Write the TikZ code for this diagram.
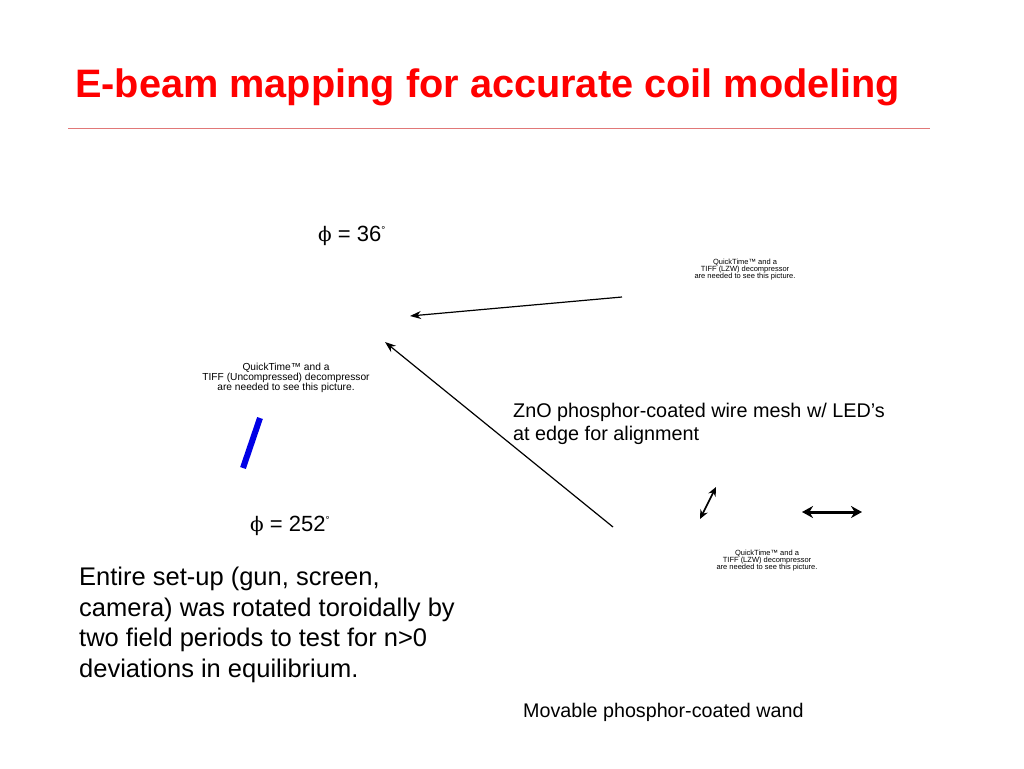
\documentclass[tikz,border=0pt]{standalone}
\usepackage{fontspec}
\setmainfont{Liberation Sans}
\newfontfamily\phifont{DejaVu Serif}
\usetikzlibrary{arrows.meta}
\definecolor{titlered}{RGB}{255,0,0}
\definecolor{rulered}{RGB}{225,120,120}
\definecolor{barblue}{RGB}{0,0,230}
\newcommand{\degsup}{\raisebox{7.5pt}{\fontsize{10}{10}\selectfont °}}
\tikzset{
  txt/.style={anchor=base west, inner sep=0pt, align=left},
  qt/.style={inner sep=0pt, align=center, font=\fontsize{#1}{#1}\selectfont},
  beam/.style={line width=1.2pt, -{Stealth[length=11pt,width=8pt]}},
}
\begin{document}
\begin{tikzpicture}[x=1pt,y=-1pt]
\useasboundingbox (0,0) rectangle (1024,768);
\fill[white] (0,0) rectangle (1024,768);
% title
\node[txt, text=titlered, font=\fontsize{39.7}{44}\bfseries\selectfont] (title) at (75,97) {E-beam mapping for accurate coil modeling};
\coordinate (ruleL) at (68,128);
\coordinate (ruleR) at (930,128);
\draw[rulered, line width=0.8pt] (ruleL) -- (ruleR);
% phi labels
\node[txt, font=\fontsize{22}{26}\selectfont] (phiA) at (318,241) {{\phifont\fontsize{20}{24}\selectfont ϕ} = 36\degsup};
\node[txt, font=\fontsize{22}{26}\selectfont] (phiB) at (250,531) {{\phifont\fontsize{20}{24}\selectfont ϕ} = 252\degsup};
% quicktime placeholders
\node[qt=7.5, anchor=base] (qt1) at (745,278) {QuickTime™ and a\\[-0.5pt]TIFF (LZW) decompressor\\[-0.5pt]are needed to see this picture.};
\node[qt=10.2, anchor=base] (qt2) at (286,390) {QuickTime™ and a\\[-0.5pt]TIFF (Uncompressed) decompressor\\[-0.5pt]are needed to see this picture.};
\node[qt=7.5, anchor=base] (qt3) at (767,569) {QuickTime™ and a\\[-0.5pt]TIFF (LZW) decompressor\\[-0.5pt]are needed to see this picture.};
% beams
\coordinate (b1s) at (622,297);
\coordinate (b1e) at (410,316);
\coordinate (b2s) at (613,527);
\coordinate (b2e) at (385,342);
\draw[beam] (b1s) -- (b1e);
\draw[beam] (b2s) -- (b2e);
% blue bar
\coordinate (barT) at (260,418);
\coordinate (barB) at (243,468);
\draw[barblue, line width=6pt] (barT) -- (barB);
% ZnO label
\node[txt, font=\fontsize{19.8}{23}\selectfont] (zno) at (513,440) {ZnO phosphor-coated wire mesh w/ LED’s\\at edge for alignment};
% double arrows
\coordinate (d1a) at (700,519);
\coordinate (d1b) at (716,487);
\draw[line width=1.6pt, {Stealth[length=9pt,width=8pt]}-{Stealth[length=9pt,width=8pt]}] (d1a) -- (d1b);
\coordinate (d2a) at (802,512);
\coordinate (d2b) at (862,512);
\draw[line width=3pt, {Stealth[length=11pt,width=12pt]}-{Stealth[length=11pt,width=12pt]}] (d2a) -- (d2b);
% body text
\node[txt, font=\fontsize{25.5}{30.5}\selectfont] (body) at (79,677) {Entire set-up (gun, screen,\\camera) was rotated toroidally by\\two field periods to test for n>0\\deviations in equilibrium.};
\node[txt, font=\fontsize{19.7}{23}\selectfont] (wand) at (523,717) {Movable phosphor-coated wand};
\end{tikzpicture}
\end{document}
